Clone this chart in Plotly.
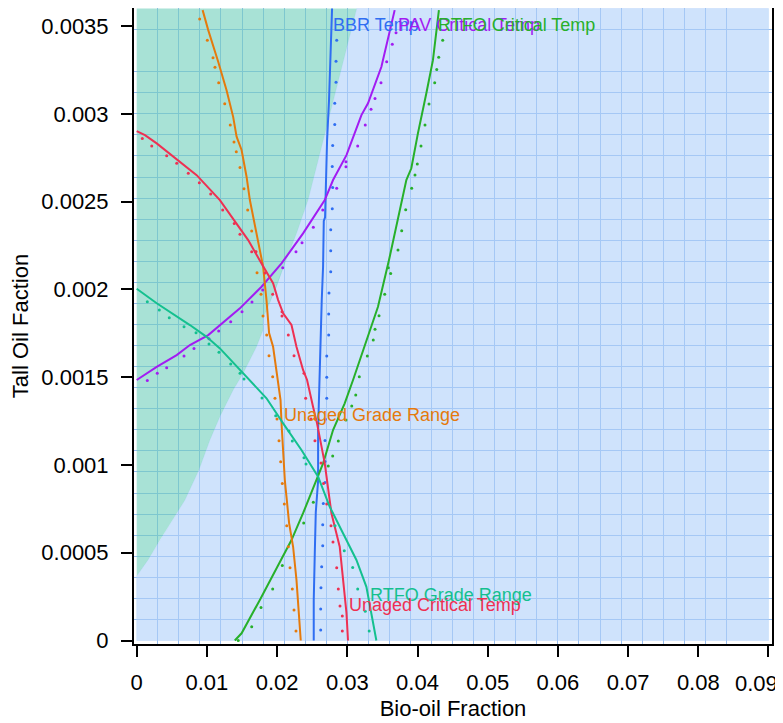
import plotly.graph_objects as go

FONT = "Liberation Sans, Arial, sans-serif"

# ---------------- regions ----------------
area_x = [0, 0.09, 0.09, 0, 0]
area_y = [0, 0, 0.0036, 0.0036, 0]
teal_region_x = [0, 0.03134, 0.02441, 0.02276, 0.02110, 0.01992, 0.01872, 0.01801, 0.01801,
                 0.01707, 0.01517, 0.01374, 0.01185, 0.01043, 0.00886, 0.00687, 0.00331, 0.00161, 0]
teal_region_y = [0.0036, 0.0036, 0.002509, 0.002319, 0.002148, 0.002015, 0.001901, 0.001837, 0.001769,
                 0.001673, 0.001522, 0.001427, 0.001275, 0.001142, 0.000971, 0.000800, 0.000572, 0.000459, 0.000367]

# ---------------- smooth curves ----------------
bbr_x = [0.02783, 0.02774, 0.02740, 0.02712, 0.02693, 0.02683, 0.02665, 0.02655, 0.02636, 0.02618,
         0.02608, 0.02584, 0.02584, 0.02551, 0.02537, 0.02522, 0.02522]
bbr_y = [0.003600, 0.003460, 0.003080, 0.002850, 0.002580, 0.002410, 0.002390, 0.002130, 0.001940, 0.001670,
         0.001500, 0.001200, 0.000910, 0.000730, 0.000500, 0.000230, 0.0]

pav_x = [0, 0.00285, 0.00569, 0.00758, 0.01019, 0.01185, 0.01470, 0.01778, 0.02063, 0.02370,
         0.02679, 0.02797, 0.02988, 0.03201, 0.03295, 0.03486, 0.03579, 0.03675]
pav_y = [0.001484, 0.001559, 0.001626, 0.001683, 0.001740, 0.001797, 0.001892, 0.002015, 0.002148, 0.002319,
         0.002509, 0.002623, 0.002765, 0.002993, 0.003060, 0.003268, 0.003420, 0.003591]

rtfo_crit_x = [0.01397, 0.01494, 0.01754, 0.02063, 0.02205, 0.02370, 0.02537, 0.02655, 0.02797, 0.02963,
               0.03082, 0.03272, 0.03437, 0.03594, 0.03722, 0.03841, 0.03912, 0.04006, 0.04126, 0.04220, 0.04305]
rtfo_crit_y = [0.0, 0.000041, 0.000231, 0.000468, 0.000572, 0.000725, 0.000895, 0.001009, 0.001199, 0.001351,
               0.001484, 0.001712, 0.001901, 0.002167, 0.002414, 0.002623, 0.002690, 0.002889, 0.003117, 0.003306, 0.003591]

unaged_grade_x = [0.00939, 0.01019, 0.01161, 0.01280, 0.01374, 0.01423, 0.01494, 0.01565, 0.01612, 0.01730,
                  0.01801, 0.01849, 0.01886, 0.01943, 0.01992, 0.02049, 0.02063, 0.02110, 0.02171, 0.02228,
                  0.02276, 0.02323, 0.02337]
unaged_grade_y = [0.003591, 0.003477, 0.003297, 0.003135, 0.002983, 0.002870, 0.002794, 0.002642, 0.002509, 0.002264,
                  0.002129, 0.001939, 0.001751, 0.001673, 0.001524, 0.001370, 0.001239, 0.000914, 0.000669, 0.000534,
                  0.000345, 0.000117, 0.0]

unaged_crit_x = [0, 0.00118, 0.00285, 0.00521, 0.00854, 0.01185, 0.01374, 0.01588, 0.01778, 0.01943,
                 0.02015, 0.02086, 0.02205, 0.02276, 0.02370, 0.02427, 0.02512, 0.02569, 0.02679, 0.02774,
                 0.02892, 0.02939, 0.02988, 0.03010]
unaged_crit_y = [0.002902, 0.002879, 0.002832, 0.002756, 0.002651, 0.002509, 0.002405, 0.002281, 0.002148, 0.002035,
                 0.001939, 0.001864, 0.001797, 0.001673, 0.001541, 0.001484, 0.001332, 0.001237, 0.001009, 0.000725,
                 0.000534, 0.000345, 0.000157, 0.0]

rtfo_grade_x = [0, 0.00285, 0.00758, 0.00996, 0.01185, 0.01517, 0.01849, 0.02086, 0.02347, 0.02584,
                0.02750, 0.02939, 0.03130, 0.03272, 0.03414]
rtfo_grade_y = [0.002004, 0.001921, 0.001797, 0.001730, 0.001664, 0.001522, 0.001380, 0.001237, 0.001085, 0.000933,
                0.000762, 0.000611, 0.000459, 0.000306, 0.0]

# ---------------- raw (dotted) points ----------------
bbr_dot_x = [0.02621, 0.02621, 0.02625, 0.02635, 0.02650, 0.02650, 0.02658, 0.02682, 0.02682, 0.02682,
             0.02689, 0.02707, 0.02707, 0.02707, 0.02735, 0.02735, 0.02739, 0.02764, 0.02764, 0.02764,
             0.02786, 0.02792, 0.02786, 0.02792, 0.02821, 0.02821, 0.02839, 0.02839, 0.02849]
bbr_dot_y = [0.00006, 0.00018, 0.00030, 0.00042, 0.00054, 0.00066, 0.00078, 0.00090, 0.00102, 0.00114,
             0.00126, 0.00138, 0.00150, 0.00162, 0.00174, 0.00186, 0.00198, 0.00210, 0.00222, 0.00234,
             0.00246, 0.00258, 0.00270, 0.00282, 0.00294, 0.00306, 0.00318, 0.00330, 0.00342]

unaged_grade_dot_x = [0.00897, 0.01006, 0.01087, 0.01115, 0.01168, 0.01254, 0.01333, 0.01386, 0.01419, 0.01472,
                      0.01528, 0.01581, 0.01638, 0.01695, 0.01714, 0.01771, 0.01799, 0.01852, 0.01885, 0.01937,
                      0.01970, 0.01999, 0.02027, 0.02051, 0.02074, 0.02103, 0.02137, 0.02160, 0.02184, 0.02217,
                      0.02241, 0.02269]
unaged_grade_dot_y = [0.003540, 0.003419, 0.003319, 0.003265, 0.003177, 0.003057, 0.002936, 0.002839, 0.002784, 0.002695,
                      0.002573, 0.002452, 0.002332, 0.002215, 0.002095, 0.001972, 0.001848, 0.001740, 0.001622, 0.001503,
                      0.001380, 0.001262, 0.001138, 0.001018, 0.000895, 0.000777, 0.000654, 0.000534, 0.000415, 0.000293,
                      0.000174, 0.000054]

unaged_crit_dot_x = [0.00080, 0.00214, 0.00427, 0.00570, 0.00735, 0.00892, 0.01054, 0.01225, 0.01390, 0.01471,
                     0.01638, 0.01699, 0.01828, 0.01937, 0.02070, 0.02070, 0.02160, 0.02241, 0.02383, 0.02407,
                     0.02483, 0.02539, 0.02625, 0.02661, 0.02707, 0.02768, 0.02796, 0.02849, 0.02872, 0.02896,
                     0.02929, 0.02929]
unaged_crit_dot_y = [0.002860, 0.002817, 0.002761, 0.002718, 0.002661, 0.002607, 0.002543, 0.002452, 0.002376, 0.002314,
                     0.002215, 0.002215, 0.002093, 0.001972, 0.001873, 0.001848, 0.001740, 0.001622, 0.001522, 0.001380,
                     0.001262, 0.001138, 0.001011, 0.000895, 0.000777, 0.000654, 0.000561, 0.000415, 0.000293, 0.000197,
                     0.000140, 0.000054]

pav_dot_x = [0.00151, 0.00293, 0.00427, 0.00674, 0.00816, 0.01030, 0.01168, 0.01339, 0.01500, 0.01642,
             0.01795, 0.02080, 0.02269, 0.02355, 0.02516, 0.02650, 0.02849, 0.02981, 0.02981, 0.03148,
             0.03256, 0.03338, 0.03395, 0.03480, 0.03561, 0.03641, 0.03694]
pav_dot_y = [0.001481, 0.001522, 0.001554, 0.001620, 0.001664, 0.001719, 0.001763, 0.001816, 0.001873, 0.001928,
             0.001996, 0.002123, 0.002214, 0.002266, 0.002354, 0.002452, 0.002576, 0.002699, 0.002727, 0.002817,
             0.002936, 0.003026, 0.003088, 0.003177, 0.003297, 0.003396, 0.003462]

rtfo_crit_dot_x = [0.01447, 0.01638, 0.01771, 0.01937, 0.02074, 0.02379, 0.02516, 0.02729, 0.02792, 0.02872,
                   0.02981, 0.03063, 0.03120, 0.03171, 0.03285, 0.03370, 0.03395, 0.03452, 0.03533, 0.03618,
                   0.03584, 0.03722, 0.03775, 0.03832, 0.03917, 0.03964, 0.03997, 0.04050, 0.04107, 0.04164,
                   0.04245, 0.04274, 0.04302, 0.04359]
rtfo_crit_dot_y = [0.0, 0.0000786, 0.000188, 0.000293, 0.000427, 0.000670, 0.000787, 0.000994, 0.001051, 0.001136,
                   0.001256, 0.001336, 0.001398, 0.001503, 0.001620, 0.001712, 0.001773, 0.001850, 0.001972, 0.002091,
                   0.002123, 0.002224, 0.002334, 0.002454, 0.002576, 0.002651, 0.002714, 0.002817, 0.002936, 0.003056,
                   0.003177, 0.003253, 0.003322, 0.003420]

rtfo_grade_dot_x = [0.00151, 0.00322, 0.00464, 0.00674, 0.00845, 0.01030, 0.01172, 0.01339, 0.01472, 0.01528,
                    0.01785, 0.01980, 0.02170, 0.02217, 0.02383, 0.02412, 0.02825, 0.02957, 0.03077, 0.03148,
                    0.03256, 0.03312]
rtfo_grade_dot_y = [0.001930, 0.001882, 0.001839, 0.001787, 0.001753, 0.001689, 0.001642, 0.001575, 0.001522, 0.001489,
                    0.001381, 0.001280, 0.001193, 0.001136, 0.001041, 0.001005, 0.000654, 0.000511, 0.000416, 0.000293,
                    0.000166, 0.000054]

# ---------------- labels ----------------
label_text = ["BBR Temp", "PAV Critical Temp", "RTFO Critical Temp",
              "Unaged Grade Range", "RTFO Grade Range", "Unaged Critical Temp"]
label_x = [0.02789, 0.03704, 0.04274, 0.02088, 0.03313, 0.03014]
label_y = [0.003506, 0.003506, 0.003506, 0.001284, 0.000259, 0.000202]

x_tick_vals = [0, 0.01, 0.02, 0.03, 0.04, 0.05, 0.06, 0.07, 0.08, 0.09]
x_tick_text = ["0", "0.01", "0.02", "0.03", "0.04", "0.05", "0.06", "0.07", "0.08", ""]
x_last_tick_text = "0.09"
y_tick_vals = [0, 0.0005, 0.001, 0.0015, 0.002, 0.0025, 0.003, 0.0035]
y_tick_text = ["0", "0.0005", "0.001", "0.0015", "0.002", "0.0025", "0.003", "0.0035"]

x_grid_vals = [0.003 * k for k in range(1, 29)]
y_grid_vals = [0.00012 * k for k in range(1, 30) if k != 28]

C_BLUE = "#2f6ef2"
C_PURPLE = "#a21cf2"
C_GREEN = "#27b02a"
C_ORANGE = "#e57a0c"
C_RED = "#ee3052"
C_TEAL = "#14c08f"

# blue region = plot rectangle minus the teal region (boundary walked in the same order)
blue_region_x = teal_region_x[1:] + [area_x[0], area_x[1], area_x[2], teal_region_x[1]]
blue_region_y = teal_region_y[1:] + [area_y[0], area_y[1], area_y[2], teal_region_y[1]]

fig = go.Figure()
fig.add_trace(go.Scatter(x=blue_region_x, y=blue_region_y, mode="lines", fill="toself",
                         fillcolor="rgba(175,208,250,0.6)", line=dict(width=0.6, color="rgba(175,208,250,0.6)"),
                         hoverinfo="skip"))
fig.add_trace(go.Scatter(x=teal_region_x, y=teal_region_y, mode="lines", fill="toself",
                         fillcolor="rgba(110,207,187,0.6)", line=dict(width=0), hoverinfo="skip"))

series = [
    (bbr_x, bbr_y, bbr_dot_x, bbr_dot_y, C_BLUE),
    (pav_x, pav_y, pav_dot_x, pav_dot_y, C_PURPLE),
    (rtfo_crit_x, rtfo_crit_y, rtfo_crit_dot_x, rtfo_crit_dot_y, C_GREEN),
    (unaged_grade_x, unaged_grade_y, unaged_grade_dot_x, unaged_grade_dot_y, C_ORANGE),
    (unaged_crit_x, unaged_crit_y, unaged_crit_dot_x, unaged_crit_dot_y, C_RED),
    (rtfo_grade_x, rtfo_grade_y, rtfo_grade_dot_x, rtfo_grade_dot_y, C_TEAL),
]
for lx, ly, dx, dy, col in series:
    fig.add_trace(go.Scatter(x=dx, y=dy, mode="markers",
                             marker=dict(size=3, color=col, line=dict(width=0))))
    fig.add_trace(go.Scatter(x=lx, y=ly, mode="lines", line=dict(color=col, width=2)))

label_colors = [C_BLUE, C_PURPLE, C_GREEN, C_ORANGE, C_TEAL, C_RED]
for t, x, y, c in zip(label_text, label_x, label_y, label_colors):
    fig.add_annotation(x=x, y=y, text=t, showarrow=False, xanchor="left", yanchor="middle",
                       font=dict(family=FONT, size=18, color=c), borderpad=0)

# last x tick label, kept inside the page
fig.add_annotation(x=x_tick_vals[-1], y=0, xref="x", yref="paper", text=x_last_tick_text,
                   showarrow=False, xanchor="center", yanchor="middle", xshift=-12, yshift=-39,
                   font=dict(family=FONT, size=22, color="black"), borderpad=0)

fig.update_layout(
    width=783, height=723,
    margin=dict(l=126, r=19, t=0, b=87),
    paper_bgcolor="white", plot_bgcolor="white",
    showlegend=False,
    font=dict(family=FONT, size=22, color="black"),
)
fig.update_xaxes(
    automargin=False,
    range=[-0.000385, 0.0905], tickmode="array", tickvals=x_tick_vals, ticktext=x_tick_text,
    showgrid=False, zeroline=False, showline=True, linecolor="black", linewidth=2, mirror=True,
    ticks="outside", ticklen=11, tickwidth=2, tickcolor="black", ticklabelstandoff=7,
    tickfont=dict(size=22),
    minor=dict(tickmode="array", tickvals=x_grid_vals, showgrid=True, gridcolor="rgb(150,188,238)",
               gridwidth=1, ticks=""),
    title=dict(text="Bio-oil Fraction", font=dict(size=22), standoff=6),
)
fig.update_yaxes(
    automargin=False,
    range=[-0.0000199, 0.003603], tickmode="array", tickvals=y_tick_vals, ticktext=y_tick_text,
    showgrid=False, zeroline=False, showline=True, linecolor="black", linewidth=2, mirror=True,
    ticks="outside", ticklen=11, tickwidth=2, tickcolor="black", ticklabelstandoff=8,
    tickfont=dict(size=22),
    minor=dict(tickmode="array", tickvals=y_grid_vals, showgrid=True, gridcolor="rgb(150,188,238)",
               gridwidth=1, ticks=""),
    title=dict(text="Tall Oil Faction", font=dict(size=22), standoff=8),
)

fig.write_html("out.html")
